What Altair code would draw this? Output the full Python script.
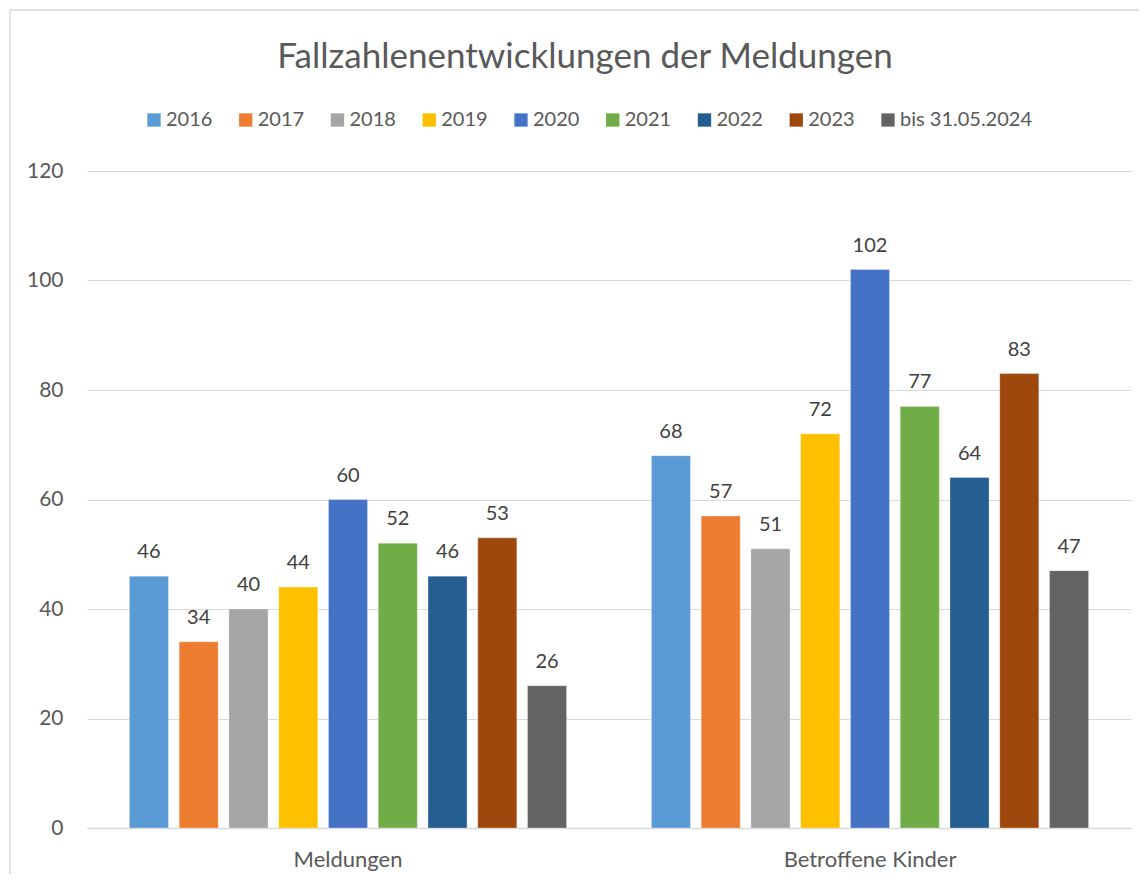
import altair as alt
import pandas as pd

groups = ["Meldungen", "Betroffene Kinder"]
years = ["2016", "2017", "2018", "2019", "2020", "2021", "2022", "2023", "bis 31.05.2024"]
meldungen = [46, 34, 40, 44, 60, 52, 46, 53, 26]
kinder = [68, 57, 51, 72, 102, 77, 64, 83, 47]
colors = ["#5B9BD5", "#ED7D31", "#A5A5A5", "#FFC000", "#4472C4", "#70AD47", "#255E91", "#9E480E", "#636363"]

rows = []
for g, vals in zip(groups, [meldungen, kinder]):
    for y, v in zip(years, vals):
        rows.append({"Gruppe": g, "Jahr": y, "Wert": v})
df = pd.DataFrame(rows)

FONT = "Lato"
W, H = 1044, 657

x = alt.X("Gruppe:N", sort=groups, title=None,
          scale=alt.Scale(paddingInner=0.142, paddingOuter=0.071),
          axis=alt.Axis(labelAngle=0, labelFont=FONT, labelFontSize=22, labelColor="#595959",
                        labelPadding=21, ticks=False, domainColor="#d9d9d9", domainWidth=1.5))
xo = alt.XOffset("Jahr:N", sort=years, scale=alt.Scale(paddingInner=0.215, paddingOuter=0.1075))
y = alt.Y("Wert:Q", title=None,
          scale=alt.Scale(domain=[0, 120]),
          axis=alt.Axis(values=[0, 20, 40, 60, 80, 100, 120], labelFont=FONT, labelFontSize=21,
                        labelColor="#595959", labelPadding=24, ticks=False, domain=False,
                        gridColor="#d9d9d9", gridWidth=1))
color = alt.Color("Jahr:N", sort=years, scale=alt.Scale(domain=years, range=colors),
                  legend=alt.Legend(title=None, orient="none", direction="horizontal", columns=9,
                                    legendX=57, legendY=-61, symbolType="square", symbolSize=177,
                                    symbolStrokeWidth=0, labelFont=FONT, labelFontSize=20,
                                    labelColor="#595959", labelOffset=2, columnPadding=22.75))

bars = alt.Chart(df).mark_bar(stroke="white", strokeWidth=0.5, strokeOpacity=0.6).encode(
    x=x, xOffset=xo, y=y, color=color)

labels = alt.Chart(df).mark_text(font=FONT, fontSize=20, color="#404040", dy=-18,
                                 baseline="alphabetic").encode(
    x=alt.X("Gruppe:N", sort=groups), xOffset=alt.XOffset("Jahr:N", sort=years),
    y="Wert:Q", text="Wert:Q")

frame = alt.Chart(pd.DataFrame({"k": [0]})).mark_rect(
    fill=None, stroke="#d9d9d9", strokeWidth=1.5).encode(
    x=alt.value(-77), x2=alt.value(1100), y=alt.value(-161), y2=alt.value(800))

chart = alt.layer(frame, bars, labels).properties(
    width=W, height=H,
    title=alt.TitleParams("Fallzahlenentwicklungen der Meldungen", font=FONT, fontSize=35,
                          fontWeight="normal", color="#595959", anchor="middle", dx=-24, offset=-66),
    autosize=alt.AutoSizeParams(type="none"),
    padding={"left": 79, "top": 163, "right": 8, "bottom": 46},
).configure_view(stroke=None)

chart.save("out.html", embed_options={"renderer": "svg", "actions": False})
